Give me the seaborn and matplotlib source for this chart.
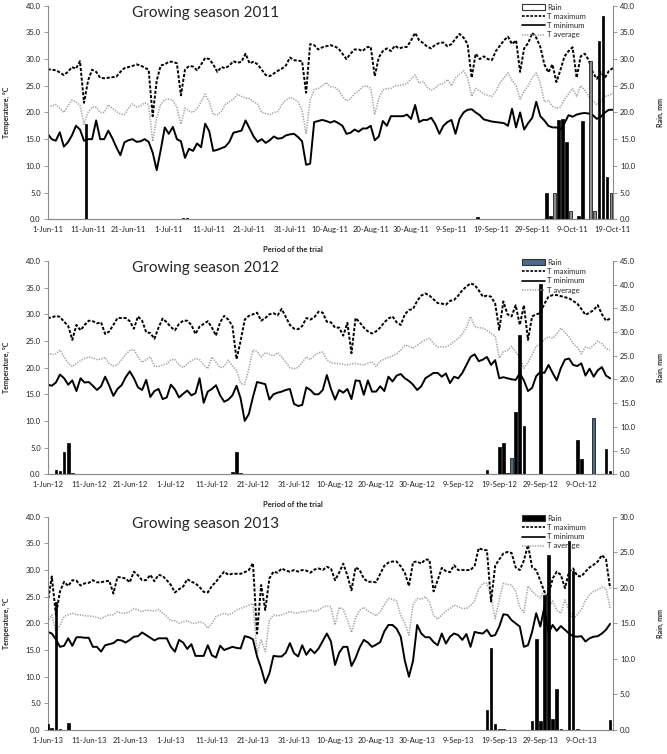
import numpy as np
import pandas as pd
import matplotlib
matplotlib.use("Agg")
import matplotlib.pyplot as plt
from matplotlib.patches import Patch
from matplotlib.lines import Line2D
from matplotlib.ticker import FormatStrFormatter
import seaborn as sns

# ---- data (daily values, first day = 1 June) ----

tmax_2011 = [28.1, 28.0, 27.9, 27.5, 27.0, 27.6, 28.5, 28.2, 29.6, 21.8,
             26.0, 28.0, 27.6, 26.5, 26.4, 26.5, 26.6, 26.7, 27.6, 28.3,
             28.5, 28.7, 29.0, 28.8, 28.4, 28.0, 19.3, 26.0, 28.8, 29.0,
             29.5, 29.5, 29.2, 23.2, 28.0, 28.7, 28.6, 27.9, 29.0, 30.2,
             30.0, 29.0, 27.6, 28.5, 28.3, 28.8, 29.6, 29.3, 29.5, 31.0,
             29.2, 29.5, 29.0, 28.0, 27.0, 26.8, 27.3, 27.8, 28.2, 28.8,
             30.3, 29.8, 29.7, 29.6, 23.7, 32.8, 32.6, 31.8, 32.2, 32.4,
             32.6, 32.4, 32.0, 31.0, 30.0, 31.0, 31.8, 31.8, 31.5, 32.2,
             32.3, 26.8, 30.3, 31.5, 32.0, 31.5, 32.5, 32.0, 32.2, 32.3,
             33.5, 34.9, 33.5, 33.0, 32.3, 32.0, 32.7, 33.0, 33.1, 32.4,
             32.8, 33.8, 34.7, 34.0, 32.8, 26.5, 31.0, 30.0, 30.5, 30.0,
             29.8, 31.5, 32.5, 33.5, 34.2, 32.8, 33.5, 27.6, 32.0, 33.0,
             34.9, 34.0, 32.3, 29.0, 27.5, 29.0, 25.7, 28.0, 30.5, 31.5,
             32.2, 26.5, 30.5, 31.0, 29.8, 27.5, 26.3, 27.5, 26.5, 27.8,
             28.3]
tmin_2011 = [16.0, 15.0, 14.7, 16.3, 13.6, 14.4, 15.7, 17.5, 16.8, 14.7,
             15.0, 15.0, 18.5, 15.0, 15.0, 16.6, 15.2, 13.5, 12.0, 14.4,
             14.8, 15.0, 14.5, 14.6, 15.0, 14.5, 12.5, 9.2, 13.0, 17.2,
             16.0, 17.3, 15.0, 14.6, 11.5, 13.2, 12.8, 14.2, 13.5, 17.9,
             16.5, 12.8, 13.0, 13.3, 13.6, 14.5, 16.2, 16.4, 16.6, 18.5,
             17.0, 15.5, 14.5, 15.0, 14.3, 14.8, 15.5, 15.1, 15.2, 15.7,
             15.9, 16.0, 15.4, 14.6, 10.2, 10.4, 18.2, 18.4, 18.6, 18.4,
             18.1, 18.4, 18.0, 17.5, 16.0, 16.2, 16.8, 16.4, 17.0, 17.0,
             17.5, 14.8, 15.5, 18.4, 17.5, 19.3, 19.3, 19.3, 19.3, 19.6,
             18.8, 21.4, 18.2, 18.6, 18.6, 19.0, 17.8, 16.0, 17.5, 18.2,
             18.6, 16.0, 18.8, 20.0, 20.5, 20.6, 20.0, 19.5, 18.7, 18.5,
             18.3, 18.2, 18.1, 18.0, 17.5, 20.7, 17.2, 20.0, 16.8, 18.0,
             19.0, 22.0, 19.3, 18.5, 17.5, 17.2, 17.2, 16.8, 18.0, 19.5,
             19.2, 19.6, 19.8, 19.9, 19.8, 19.5, 18.8, 19.2, 20.0, 20.5,
             20.5]
tavg_2011 = [21.2, 21.2, 21.5, 20.8, 20.0, 21.2, 22.3, 22.0, 21.3, 17.8,
             20.0, 21.0, 21.0, 20.0, 20.0, 21.4, 20.8, 20.2, 19.7, 19.6,
             20.8, 21.6, 21.0, 21.2, 21.8, 21.5, 14.6, 19.0, 21.5, 22.4,
             22.5, 22.3, 21.0, 17.8, 20.8, 20.3, 20.0, 20.8, 22.0, 23.4,
             22.0, 19.6, 19.6, 20.2, 21.5, 22.0, 22.5, 23.4, 23.0, 22.7,
             22.6, 22.0, 21.6, 20.0, 19.8, 19.6, 20.0, 20.2, 21.5, 22.3,
             22.8, 22.5, 22.0, 20.5, 16.0, 22.3, 24.3, 24.5, 25.0, 25.6,
             24.8, 24.8, 24.2, 23.0, 22.2, 22.5, 23.5, 24.0, 24.8, 25.0,
             24.5, 19.6, 22.7, 24.2, 24.5, 24.5, 25.0, 25.0, 25.2, 25.4,
             26.3, 27.0, 25.5, 25.8, 24.7, 24.2, 24.6, 25.3, 25.4, 26.2,
             25.0, 26.5, 27.2, 27.8, 26.5, 23.0, 24.5, 24.0, 23.5, 23.2,
             23.0, 24.0, 25.5, 26.5, 27.4, 26.0, 25.0, 22.5, 24.0, 25.0,
             26.5, 27.4, 25.5, 22.0, 22.2, 21.2, 20.8, 21.0, 22.5, 23.5,
             24.5, 23.0, 25.0, 24.2, 23.0, 22.2, 21.5, 22.0, 23.0, 23.2,
             23.5]
rain_2011_days = ["2011-06-11", "2011-07-05", "2011-07-06", "2011-09-16",
                  "2011-10-03", "2011-10-04", "2011-10-05", "2011-10-06",
                  "2011-10-07", "2011-10-08", "2011-10-09", "2011-10-11",
                  "2011-10-12", "2011-10-14", "2011-10-15", "2011-10-16",
                  "2011-10-17", "2011-10-18", "2011-10-19"]
rain_2011 = [17.8, 0.3, 0.3, 0.4, 5.0, 0.6, 4.9, 18.6, 18.8, 14.4, 1.6, 0.6,
             18.4, 29.7, 1.6, 33.4, 38.0, 7.9, 5.0]

tmax_2012 = [29.3, 29.4, 29.7, 29.5, 28.6, 27.8, 25.2, 28.0, 27.0, 28.0,
             28.8, 28.7, 28.3, 28.5, 26.3, 26.8, 28.0, 29.3, 29.3, 29.3,
             28.7, 27.3, 29.6, 28.8, 26.6, 26.5, 25.4, 27.5, 29.2, 28.5,
             27.6, 27.0, 28.2, 28.8, 28.8, 28.0, 26.3, 27.7, 28.2, 28.7,
             27.5, 26.0, 28.5, 29.7, 29.0, 27.8, 21.6, 25.0, 29.0, 29.7,
             30.0, 30.3, 28.8, 29.3, 30.0, 30.2, 29.8, 31.0, 29.5, 28.0,
             27.3, 27.2, 27.8, 29.3, 29.0, 29.5, 30.5, 30.3, 28.6, 28.5,
             27.5, 27.5, 26.0, 28.4, 22.7, 29.3, 28.5, 27.5, 26.8, 26.4,
             26.8, 27.5, 28.5, 29.2, 29.6, 28.5, 28.0, 30.0, 30.8, 31.0,
             32.5, 33.5, 33.9, 33.5, 32.8, 32.1, 32.0, 31.8, 32.5, 32.7,
             33.5, 34.5, 35.2, 35.8, 35.5, 34.5, 33.3, 33.5, 33.3, 32.0,
             27.1, 32.4, 30.0, 29.6, 31.7, 28.0, 31.7, 25.2, 29.6, 30.0,
             30.2, 32.0, 33.3, 33.6, 33.6, 33.4, 33.2, 33.0, 32.5, 32.0,
             31.0, 29.9, 30.3, 30.8, 31.7, 30.0, 28.8, 29.2]
tmin_2012 = [16.8, 16.6, 17.2, 18.7, 18.0, 16.8, 17.6, 15.6, 18.0, 17.2,
             17.3, 16.6, 15.8, 16.5, 18.3, 16.6, 14.7, 16.0, 16.7, 18.2,
             19.3, 18.0, 16.3, 15.8, 17.7, 14.5, 15.6, 16.0, 14.1, 14.4,
             16.8, 15.9, 14.4, 15.1, 15.7, 14.8, 15.2, 18.0, 13.4, 15.5,
             16.0, 16.7, 14.8, 13.6, 14.0, 14.8, 16.6, 14.2, 10.0, 11.3,
             14.5, 17.3, 17.1, 16.9, 14.0, 15.0, 15.3, 15.5, 15.8, 16.0,
             13.2, 12.8, 13.0, 16.3, 15.8, 15.0, 15.0, 15.8, 18.6, 16.0,
             14.0, 15.8, 15.3, 16.0, 14.1, 17.6, 17.5, 14.9, 17.6, 15.5,
             15.5, 16.5, 15.6, 18.3, 17.4, 18.5, 18.8, 18.0, 17.5, 16.8,
             15.8, 16.5, 18.0, 18.5, 19.0, 19.0, 18.3, 18.9, 17.1, 18.3,
             18.0, 19.0, 20.5, 22.0, 22.5, 21.2, 21.5, 22.0, 20.5, 21.4,
             18.0, 18.2, 18.0, 17.8, 17.7, 18.9, 17.6, 15.6, 16.2, 18.4,
             19.2, 19.0, 20.5, 19.0, 17.6, 19.9, 21.5, 21.7, 20.5, 20.3,
             20.8, 18.5, 19.8, 18.3, 19.5, 20.1, 18.5, 18.0]
tavg_2012 = [22.8, 22.4, 22.6, 23.3, 22.0, 20.8, 20.2, 20.8, 21.3, 21.7,
             22.0, 21.8, 21.5, 21.6, 21.9, 20.7, 20.3, 20.5, 21.5, 22.5,
             23.2, 23.4, 22.0, 21.0, 21.5, 22.0, 20.3, 20.2, 20.5, 20.7,
             21.5, 21.5, 20.5, 20.0, 20.7, 21.3, 21.7, 21.5, 20.5, 19.8,
             22.0, 21.0, 20.0, 20.2, 21.4, 20.3, 19.5, 17.0, 16.9, 19.8,
             23.3, 23.0, 22.0, 22.8, 22.5, 22.2, 22.8, 22.0, 21.0, 20.0,
             19.8, 20.0, 21.0, 22.0, 21.5, 22.3, 22.8, 22.9, 21.5, 20.9,
             20.8, 20.8, 20.6, 20.5, 20.7, 20.8, 20.6, 20.5, 20.8, 21.1,
             20.2, 21.2, 21.6, 21.9, 22.2, 22.6, 23.3, 24.2, 24.0, 23.6,
             24.2, 24.8, 25.2, 25.5, 24.5, 23.9, 23.9, 23.9, 24.3, 24.9,
             25.5, 26.3, 27.5, 29.6, 27.7, 27.5, 27.4, 27.0, 26.4, 26.0,
             21.8, 23.0, 23.2, 24.0, 23.0, 21.8, 19.9, 21.0, 22.4, 24.0,
             24.5, 25.3, 25.8, 25.5, 26.3, 27.4, 26.6, 25.8, 24.5, 23.8,
             22.6, 23.9, 23.6, 24.2, 25.0, 24.5, 23.6, 23.3]
rain_2012_days = ["2012-06-03", "2012-06-04", "2012-06-05", "2012-06-06",
                  "2012-06-07", "2012-07-16", "2012-07-17", "2012-07-18",
                  "2012-09-16", "2012-09-19", "2012-09-20", "2012-09-21",
                  "2012-09-22", "2012-09-23", "2012-09-24", "2012-09-25",
                  "2012-09-29", "2012-10-08", "2012-10-09", "2012-10-11",
                  "2012-10-12", "2012-10-14", "2012-10-15", "2012-10-16"]
rain_2012 = [0.9, 0.7, 4.8, 6.7, 0.2, 0.5, 4.7, 0.2, 0.8, 5.8, 6.7, 0.2,
             3.4, 13.2, 29.3, 10.1, 40.1, 7.3, 3.2, 0.1, 11.9, 0.1, 5.4, 0.6]

tmax_2013 = [23.8, 28.8, 21.6, 26.0, 27.8, 27.0, 28.1, 28.0, 27.1, 27.5,
             27.6, 28.1, 27.7, 27.7, 27.9, 28.0, 25.6, 28.7, 28.6, 28.4,
             27.7, 29.7, 29.0, 28.1, 28.1, 29.1, 27.9, 29.1, 28.9, 28.1,
             27.2, 25.8, 26.4, 26.9, 28.3, 27.8, 27.5, 26.8, 25.9, 25.8,
             27.0, 27.8, 28.8, 29.7, 29.1, 29.3, 29.3, 29.3, 29.6, 30.0,
             31.3, 18.1, 27.2, 22.5, 28.4, 29.7, 29.5, 30.3, 29.9, 29.7,
             30.0, 29.7, 30.0, 29.9, 29.5, 30.1, 30.3, 30.0, 30.6, 30.3,
             28.1, 29.5, 31.2, 29.0, 26.2, 30.5, 30.0, 28.4, 27.8, 27.8,
             27.7, 29.3, 30.8, 31.4, 31.6, 31.6, 30.7, 29.5, 27.0, 31.5,
             31.6, 31.2, 32.0, 31.9, 26.0, 28.1, 30.4, 29.8, 29.6, 30.9,
             30.0, 30.0, 30.0, 30.0, 30.8, 34.1, 33.8, 33.7, 24.1, 30.8,
             32.0, 33.1, 33.4, 33.2, 30.5, 30.0, 31.8, 34.7, 30.5, 30.0,
             28.0, 25.9, 25.3, 28.4, 29.7, 29.1, 26.6, 29.7, 30.3, 28.9,
             28.8, 29.7, 30.5, 31.0, 31.6, 32.8, 32.0, 26.6]
tmin_2013 = [18.4, 18.1, 17.0, 15.6, 15.8, 17.2, 15.8, 17.4, 17.4, 17.3,
             17.3, 15.6, 15.6, 14.7, 15.9, 16.1, 16.3, 16.9, 16.8, 16.4,
             16.9, 17.5, 17.6, 18.3, 17.8, 17.3, 16.8, 17.2, 17.2, 17.2,
             15.6, 14.7, 16.9, 16.4, 15.2, 16.1, 13.9, 13.9, 13.9, 15.9,
             14.0, 13.6, 15.8, 15.0, 15.3, 15.6, 15.4, 15.3, 17.6, 17.4,
             17.0, 13.8, 11.6, 8.8, 10.6, 13.9, 13.8, 13.8, 14.5, 16.3,
             14.4, 13.8, 15.9, 14.1, 15.2, 14.4, 15.3, 16.7, 18.1, 16.6,
             12.2, 14.5, 15.6, 15.6, 12.0, 13.5, 15.5, 16.9, 16.4, 15.6,
             16.0, 16.5, 18.5, 19.7, 19.7, 19.0, 17.5, 13.0, 10.0, 13.0,
             19.7, 18.1, 17.4, 17.4, 16.5, 15.9, 18.1, 16.2, 17.5, 18.1,
             17.8, 16.9, 18.0, 15.6, 18.4, 18.2, 18.1, 18.8, 17.6, 17.8,
             19.4, 21.7, 21.6, 20.6, 20.0, 19.4, 15.6, 15.9, 18.4, 21.9,
             19.4, 23.1, 18.2, 19.7, 18.6, 19.5, 18.8, 18.1, 17.6, 17.5,
             17.6, 16.6, 17.2, 17.5, 17.6, 18.1, 18.8, 19.9]
tavg_2013 = [20.3, 21.6, 18.4, 19.7, 21.3, 21.6, 21.9, 21.6, 21.6, 21.4,
             21.4, 21.3, 21.1, 20.9, 21.3, 21.6, 21.6, 22.2, 21.9, 21.9,
             22.2, 22.8, 22.5, 22.2, 22.5, 22.4, 22.3, 22.6, 21.9, 21.3,
             20.5, 20.5, 20.0, 20.3, 20.5, 20.1, 20.0, 20.3, 20.0, 19.1,
             20.0, 21.3, 21.6, 21.9, 21.6, 21.9, 22.5, 22.8, 23.1, 23.4,
             23.7, 14.4, 16.9, 14.7, 20.6, 21.6, 21.4, 21.6, 21.9, 22.2,
             22.0, 21.9, 22.2, 22.2, 22.5, 22.2, 22.5, 23.0, 23.3, 23.1,
             19.7, 23.0, 22.6, 20.7, 18.3, 21.0, 22.5, 23.0, 22.3, 21.9,
             21.4, 22.2, 23.5, 24.7, 24.5, 24.2, 21.5, 20.0, 17.8, 23.5,
             24.7, 24.5, 25.0, 24.0, 21.5, 20.8, 21.6, 22.3, 22.8, 23.4,
             23.1, 22.8, 22.8, 23.3, 24.2, 26.5, 27.5, 27.5, 25.0, 20.9,
             24.4, 27.5, 27.3, 27.2, 26.0, 23.0, 22.0, 27.0, 26.0, 25.3,
             24.8, 26.2, 22.8, 24.2, 22.5, 21.9, 24.4, 22.5, 20.9, 21.6,
             22.6, 24.3, 25.4, 26.0, 26.3, 26.8, 26.6, 22.8]
rain_2013_days = ["2013-06-01", "2013-06-02", "2013-06-03", "2013-06-04",
                  "2013-06-06", "2013-09-16", "2013-09-17", "2013-09-18",
                  "2013-09-19", "2013-09-20", "2013-09-27", "2013-09-28",
                  "2013-09-29", "2013-09-30", "2013-10-01", "2013-10-02",
                  "2013-10-03", "2013-10-04", "2013-10-06", "2013-10-07",
                  "2013-10-08", "2013-10-16"]
rain_2013 = [0.8, 0.3, 18.0, 0.2, 1.0, 2.8, 11.6, 0.8, 0.2, 0.2, 1.2, 12.8,
             1.2, 19.0, 24.6, 1.6, 5.8, 0.2, 26.6, 22.4, 0.2, 1.4]


sns.set_style("white")
plt.rcParams['font.family'] = ['Lato', 'DejaVu Sans']

TICK_FS = 5.5
AXIS_GREY = '#8a8a8a'
AVG_GREY = '#9c9c9c'
DASH = (0, (1.6, 0.9))
DOT = (0, (0.8, 0.9))


def draw_season(ax, start, tmax, tmin, tavg, rain_days, rain_mm, rain_top,
                title, bar_colors, legend_face, span_days, bar_shift_h=0,
                xlabel=True):
    days = pd.date_range(start, periods=len(tmax), freq="D")
    df = pd.DataFrame({"day": days, "tmax": tmax, "tmin": tmin, "tavg": tavg})

    # temperatures on the left axis
    sns.lineplot(data=df, x="day", y="tavg", ax=ax, color=AVG_GREY,
                 linestyle=DOT, linewidth=1.1)
    sns.lineplot(data=df, x="day", y="tmax", ax=ax, color="black",
                 linestyle=DASH, linewidth=1.4)
    sns.lineplot(data=df, x="day", y="tmin", ax=ax, color="black",
                 linewidth=1.4)

    # rain on the right axis
    ax2 = ax.twinx()
    rd = pd.to_datetime(rain_days) + pd.Timedelta(hours=bar_shift_h)
    ax2.bar(rd, rain_mm, width=0.65, color=bar_colors, edgecolor="black",
            linewidth=0.5)

    ax.set_xlim(days[0], days[0] + pd.Timedelta(days=span_days))
    ticks = pd.date_range(start, periods=15, freq="10D")
    ticks = ticks[ticks <= days[0] + pd.Timedelta(days=span_days)]
    ax.set_xticks(ticks)
    ax.set_xticklabels([f"{d.day}-{d.strftime('%b-%y')}" for d in ticks])

    ax.set_ylim(0, 40)
    ax.set_yticks(np.arange(0, 40.1, 5))
    ax.yaxis.set_major_formatter(FormatStrFormatter('%.1f'))
    ax2.set_ylim(0, rain_top)
    ax2.set_yticks(np.arange(0, rain_top + 0.1, 5))
    ax2.yaxis.set_major_formatter(FormatStrFormatter('%.1f'))

    for a in (ax, ax2):
        a.spines['top'].set_visible(False)
        for s in a.spines.values():
            s.set_color(AXIS_GREY)
            s.set_linewidth(0.8)
        a.tick_params(labelsize=TICK_FS, length=3, width=0.6,
                      color=AXIS_GREY, pad=2, labelcolor="#222222")
    ax.spines['right'].set_visible(False)
    ax2.spines['left'].set_visible(False)

    ax.set_ylabel("Temperature, °C", fontsize=5, fontweight="bold")
    ax.yaxis.set_label_coords(-0.067, 0.5)
    ax2.set_ylabel("Rain, mm", fontsize=5, fontweight="bold")
    ax2.yaxis.set_label_coords(1.078, 0.5)
    if xlabel:
        ax.set_xlabel("Period of the trial", fontsize=5.5, fontweight="bold")
        ax.xaxis.set_label_coords(0.434, -0.125)
    else:
        ax.set_xlabel("")

    ax.text(0.28, 0.966, title, transform=ax.transAxes, ha="center",
            va="center", fontsize=11)

    handles = [
        Patch(facecolor=legend_face, edgecolor="#333333", linewidth=0.8),
        Line2D([], [], color="black", linestyle=DASH, linewidth=1.2),
        Line2D([], [], color="black", linewidth=1.2),
        Line2D([], [], color=AVG_GREY, linestyle=DOT, linewidth=1.1),
    ]
    ax2.legend(handles, ["Rain", "T maximum", "T minimum", "T average"],
               loc="upper left", bbox_to_anchor=(0.83, 1.035), frameon=False,
               fontsize=5.5, handlelength=3.0, handletextpad=0.3,
               labelspacing=0.3, borderpad=0.2)
    return ax2


fig = plt.figure(figsize=(6.67, 7.54), dpi=100)
ax1 = fig.add_axes([0.0715, 0.7092, 0.8475, 0.2833])
ax2 = fig.add_axes([0.0715, 0.3710, 0.8475, 0.2829])
ax3 = fig.add_axes([0.0715, 0.0318, 0.8475, 0.2829])

grey_2011 = ["2011-10-05", "2011-10-09", "2011-10-14", "2011-10-15", "2011-10-19"]
cols_2011 = ["#8c8c8c" if d in grey_2011 else "black" for d in rain_2011_days]
blue_2012 = ["2012-09-22", "2012-10-12"]
cols_2012 = ["#4a6a8a" if d in blue_2012 else "black" for d in rain_2012_days]

draw_season(ax1, "2011-06-01", tmax_2011, tmin_2011, tavg_2011,
            rain_2011_days, rain_2011, 40, "Growing season 2011",
            cols_2011, "white", 140, bar_shift_h=-12)
draw_season(ax2, "2012-06-01", tmax_2012, tmin_2012, tavg_2012,
            rain_2012_days, rain_2012, 45, "Growing season 2012",
            cols_2012, "#4a6a8a", 137.7)
draw_season(ax3, "2013-06-01", tmax_2013, tmin_2013, tavg_2013,
            rain_2013_days, rain_2013, 30, "Growing season 2013",
            "black", "black", 137.7, xlabel=False)

fig.savefig("out.png", dpi=100)
